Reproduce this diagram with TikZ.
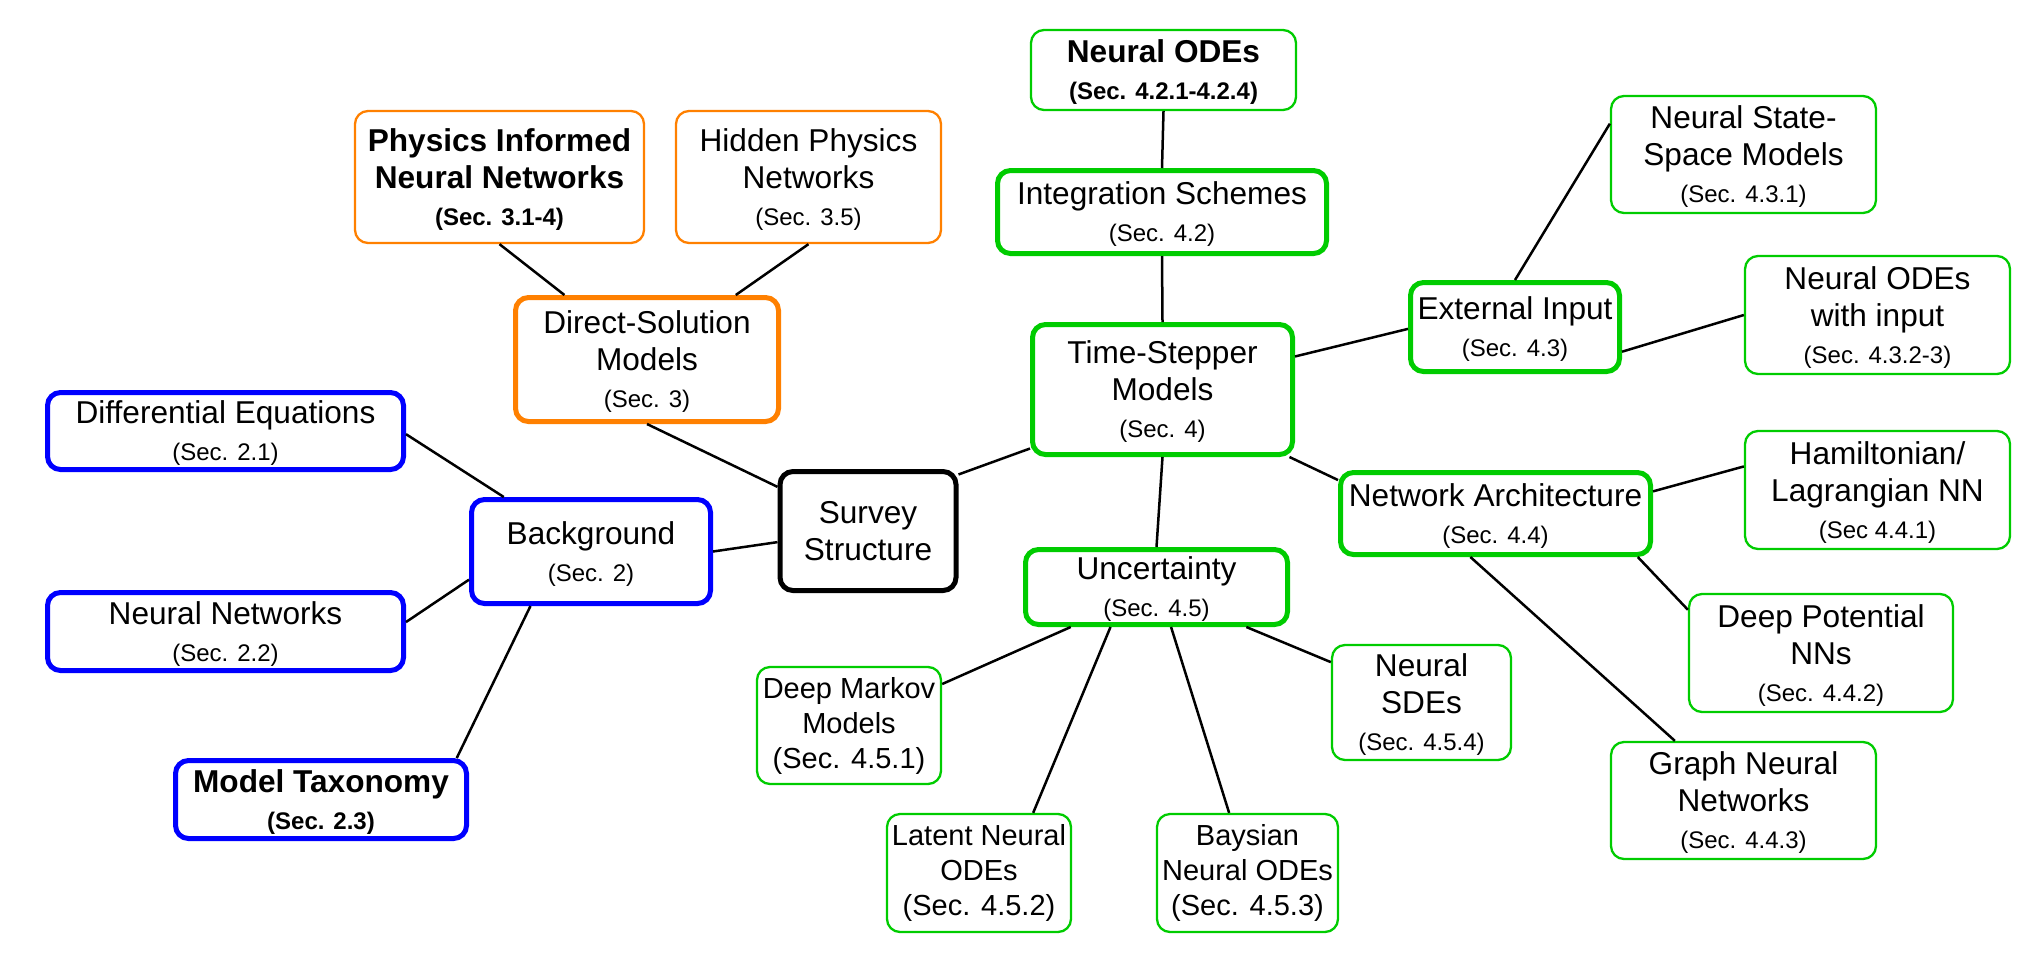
\documentclass[tikz,border=0pt]{standalone}
\usepackage{fontspec}
\setmainfont{Liberation Sans}
\usepackage{tikz}
\newcommand*{\unit}{0.5pt}
\newcommand*{\titlesize}{\fontsize{15.8}{18.5}\selectfont}
\newcommand*{\secsize  }{\fontsize{12}{18.5}\selectfont}
\newcommand*{\leafsize }{\fontsize{14.5}{17.5}\selectfont}
\definecolor{bgblue}{RGB}{0,0,255}
\definecolor{dsorange}{RGB}{255,128,0}
\definecolor{tsgreen}{RGB}{0,204,0}
\tikzset{
    box/.style 2 args = {draw, rounded corners=6.5pt, align=center, inner sep=0pt, font=\titlesize,
                         minimum width=#1*\unit, minimum height=#2*\unit, text depth=-2.5pt},
    leaf/.style  = {font=\leafsize, text depth={}},
    major/.style = {line width=2.5pt},
    minor/.style = {line width=1.15pt},
    link/.style  = {line width=1.25pt, black},
}

\begin{document}
\begin{tikzpicture}[x=\unit, y=-\unit]
    \useasboundingbox (0,0) rectangle (2039,960);
    % root
    \node (survey)  [box={176}{119}, major, draw=black, text depth={}] at ( 868, 531.0) {Survey\\Structure};
    % background
    \node (bg)      [box={239}{104}, major, draw=bgblue]    at ( 591, 551.5) {Background\\{\secsize (Sec. 2)}};
    \node (diffeq)  [box={356}{77},  major, draw=bgblue]    at ( 225.5, 431.0) {Differential Equations\\{\secsize (Sec. 2.1)}};
    \node (nn)      [box={356}{78},  major, draw=bgblue]    at ( 225.5, 631.5) {Neural Networks\\{\secsize (Sec. 2.2)}};
    \node (tax)     [box={291}{78},  major, draw=bgblue, font=\titlesize\bfseries] at ( 321, 799.5) {Model Taxonomy\\{\secsize (Sec. 2.3)}};
    % direct-solution
    \node (direct)  [box={263}{124}, major, draw=dsorange]  at ( 647, 359.5) {Direct-Solution\\Models\\{\secsize (Sec. 3)}};
    \node (pinn)    [box={289}{132}, minor, draw=dsorange, font=\titlesize\bfseries] at ( 499.5, 177.0) {Physics Informed\\Neural Networks\\{\secsize (Sec. 3.1-4)}};
    \node (hpn)     [box={265}{132}, minor, draw=dsorange]  at ( 808.5, 177.0) {Hidden Physics\\Networks\\{\secsize (Sec. 3.5)}};
    % time-stepper
    \node (ts)      [box={260}{130}, major, draw=tsgreen]   at (1162.5, 389.5) {Time-Stepper\\Models\\{\secsize (Sec. 4)}};
    \node (integ)   [box={329}{83},  major, draw=tsgreen]   at (1162.0, 212.0) {Integration Schemes\\{\secsize (Sec. 4.2)}};
    \node (node)    [box={265}{80},  minor, draw=tsgreen, font=\titlesize\bfseries] at (1163.5,  70.0) {Neural ODEs\\{\secsize (Sec. 4.2.1-4.2.4)}};
    \node (ext)     [box={209}{89},  major, draw=tsgreen]   at (1515.0, 327.0) {External Input\\{\secsize (Sec. 4.3)}};
    \node (nss)     [box={265}{117}, minor, draw=tsgreen]   at (1743.5, 154.5) {Neural State-\\Space Models\\{\secsize (Sec. 4.3.1)}};
    \node (nodein)  [box={265}{118}, minor, draw=tsgreen]   at (1877.5, 315.0) {Neural ODEs\\with input\\{\secsize (Sec. 4.3.2-3)}};
    \node (netarch) [box={310}{82},  major, draw=tsgreen]   at (1495.5, 513.5) {Network Architecture\\{\secsize (Sec. 4.4)}};
    \node (ham)     [box={265}{118}, minor, draw=tsgreen]   at (1877.5, 490.0) {Hamiltonian/\\Lagrangian NN\\{\secsize (Sec 4.4.1)}};
    \node (deeppot) [box={264}{118}, minor, draw=tsgreen]   at (1821.0, 653.0) {Deep Potential\\NNs\\{\secsize (Sec. 4.4.2)}};
    \node (gnn)     [box={265}{117}, minor, draw=tsgreen]   at (1743.5, 800.5) {Graph Neural\\Networks\\{\secsize (Sec. 4.4.3)}};
    \node (unc)     [box={262}{75},  major, draw=tsgreen]   at (1156.5, 587.0) {Uncertainty\\{\secsize (Sec. 4.5)}};
    \node (sde)     [box={179}{115}, minor, draw=tsgreen]   at (1421.5, 702.5) {Neural\\SDEs\\{\secsize (Sec. 4.5.4)}};
    \node (markov)  [box={184}{117}, minor, draw=tsgreen, leaf] at ( 849.0, 725.5) {Deep Markov\\Models\\(Sec. 4.5.1)};
    \node (latent)  [box={184}{118}, minor, draw=tsgreen, leaf] at ( 979.0, 873.0) {Latent Neural\\ODEs\\(Sec. 4.5.2)};
    \node (bays)    [box={181}{118}, minor, draw=tsgreen, leaf] at (1247.5, 873.0) {Baysian\\Neural ODEs\\(Sec. 4.5.3)};

    \draw [link] (survey.187) -- (bg.east);
    \draw [link] (survey.154) -- (direct.south);
    \draw [link] (survey.32)  -- (ts.204);
    \draw [link] (bg.148) -- (diffeq.-1);
    \draw [link] (bg.193) -- (nn.3);
    \draw [link] (bg.222) -- (tax.17);
    \draw [link] (direct.142) -- (pinn.south);
    \draw [link] (direct.36)  -- (hpn.south);
    \draw [link] (ts.north) -- (integ.south);
    \draw [link] (integ.north) -- (node.south);
    \draw [link] (ts.14) -- (ext.181);
    \draw [link] (ext.north) -- (nss.167.5);
    \draw [link] (ext.347) -- (nodein.west);
    \draw [link] (ts.332) -- (netarch.168);
    \draw [link] (netarch.8)   -- (ham.170.6);
    \draw [link] (netarch.343) -- (deeppot.162.5);
    \draw [link] (netarch.240) -- (gnn.139);
    \draw [link] (ts.south) -- (unc.north);
    \draw [link] (unc.205) -- (markov.24.6);
    \draw [link] (unc.221) -- (latent.48);
    \draw [link] (unc.290) -- (bays.107);
    \draw [link] (unc.336) -- (sde.156.4);
\end{tikzpicture}
\end{document}
